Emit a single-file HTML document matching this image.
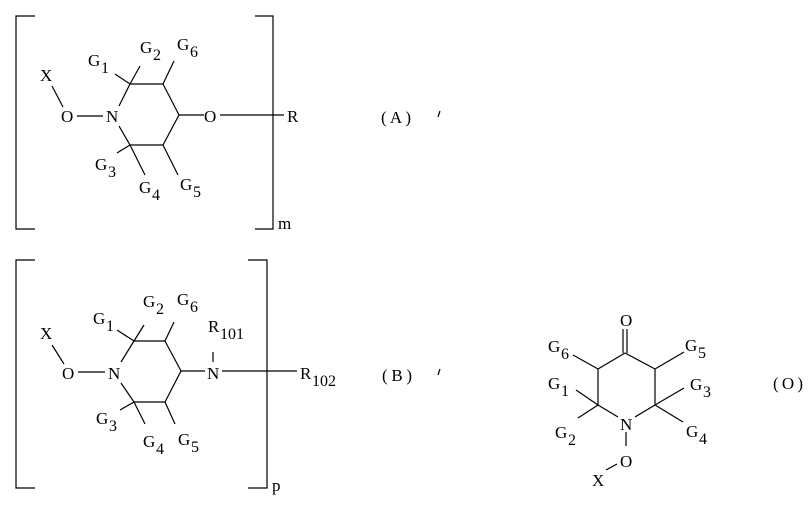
<!DOCTYPE html>
<html><head><meta charset="utf-8"><style>
html,body{margin:0;padding:0;background:#fff;}
svg{display:block;}
text{font-family:"Liberation Serif","DejaVu Serif",serif;font-size:17px;fill:#000;}
.s{font-size:16px;}
</style></head><body>
<svg width="810" height="506" viewBox="0 0 810 506" xmlns="http://www.w3.org/2000/svg">
<g stroke="#000" stroke-width="1.2" fill="none">
<polyline points="35,16 16,16 16,229 35,229"/>
<polyline points="255,16 273,16 273,229 255,229"/>
<line x1="52" y1="86" x2="63" y2="107"/>
<line x1="77" y1="116" x2="103" y2="116"/>
<line x1="119" y1="106" x2="130" y2="84"/>
<line x1="130" y1="84" x2="163" y2="84"/>
<line x1="163" y1="84" x2="179" y2="115"/>
<line x1="179" y1="115" x2="163" y2="145"/>
<line x1="163" y1="145" x2="130" y2="145"/>
<line x1="130" y1="145" x2="119" y2="126"/>
<line x1="179" y1="115" x2="204" y2="115"/>
<line x1="220" y1="115" x2="284" y2="115"/>
<line x1="115" y1="74" x2="130" y2="84"/>
<line x1="130" y1="84" x2="140" y2="66"/>
<line x1="163" y1="84" x2="174" y2="61"/>
<line x1="130" y1="145" x2="117" y2="153"/>
<line x1="130" y1="145" x2="145" y2="175"/>
<line x1="163" y1="145" x2="178" y2="175"/>
<polyline points="35,260 16,260 16,488 35,488"/>
<polyline points="248,260 267,260 267,488 248,488"/>
<line x1="52" y1="345" x2="64" y2="364"/>
<line x1="78" y1="372" x2="105" y2="372"/>
<line x1="121" y1="362" x2="134" y2="341"/>
<line x1="134" y1="341" x2="165" y2="341"/>
<line x1="165" y1="341" x2="181" y2="371"/>
<line x1="181" y1="371" x2="165" y2="402"/>
<line x1="165" y1="402" x2="134" y2="402"/>
<line x1="134" y1="402" x2="121" y2="383"/>
<line x1="181" y1="371" x2="205" y2="371"/>
<line x1="213" y1="352" x2="213" y2="362"/>
<line x1="222" y1="371" x2="297" y2="371"/>
<line x1="117" y1="330" x2="134" y2="341"/>
<line x1="134" y1="341" x2="144" y2="325"/>
<line x1="165" y1="341" x2="174" y2="322"/>
<line x1="134" y1="402" x2="120" y2="410"/>
<line x1="134" y1="402" x2="145" y2="424"/>
<line x1="165" y1="402" x2="175" y2="424"/>
<line x1="623" y1="329" x2="623" y2="353"/>
<line x1="627" y1="329" x2="627" y2="353"/>
<line x1="625" y1="353" x2="598" y2="369"/>
<line x1="625" y1="353" x2="655" y2="369"/>
<line x1="598" y1="369" x2="598" y2="405"/>
<line x1="655" y1="369" x2="655" y2="405"/>
<line x1="598" y1="405" x2="618" y2="417"/>
<line x1="655" y1="405" x2="635" y2="417"/>
<line x1="626" y1="432" x2="626" y2="446"/>
<line x1="606" y1="470" x2="617" y2="464"/>
<line x1="573" y1="355" x2="598" y2="369"/>
<line x1="655" y1="369" x2="684" y2="352"/>
<line x1="576" y1="390" x2="598" y2="405"/>
<line x1="598" y1="405" x2="578" y2="418"/>
<line x1="655" y1="405" x2="684" y2="388"/>
<line x1="655" y1="405" x2="683" y2="422"/>
<line x1="440" y1="111" x2="438" y2="117"/>
<line x1="440" y1="369" x2="438" y2="375"/>
</g>
<text x="40" y="81">X</text>
<text x="61" y="122">O</text>
<text x="106" y="122">N</text>
<text x="204" y="122">O</text>
<text x="287" y="122">R</text>
<text x="88" y="66">G</text><text class="s" x="101" y="73">1</text>
<text x="140" y="53">G</text><text class="s" x="153" y="60">2</text>
<text x="177" y="50">G</text><text class="s" x="190" y="57">6</text>
<text x="95" y="170">G</text><text class="s" x="108" y="177">3</text>
<text x="139" y="193">G</text><text class="s" x="152" y="200">4</text>
<text x="180" y="190">G</text><text class="s" x="193" y="197">5</text>
<text x="278" y="229">m</text>
<text x="381" y="123" textLength="30">(A)</text>
<text x="40" y="339">X</text>
<text x="62" y="379">O</text>
<text x="108" y="379">N</text>
<text x="207" y="379">N</text>
<text x="208" y="332">R</text><text class="s" x="220" y="339">101</text>
<text x="300" y="379">R</text><text class="s" x="312" y="386">102</text>
<text x="93" y="324">G</text><text class="s" x="106" y="331">1</text>
<text x="143" y="307">G</text><text class="s" x="156" y="314">2</text>
<text x="177" y="305">G</text><text class="s" x="190" y="312">6</text>
<text x="96" y="424">G</text><text class="s" x="109" y="431">3</text>
<text x="143" y="447">G</text><text class="s" x="156" y="454">4</text>
<text x="178" y="445">G</text><text class="s" x="191" y="452">5</text>
<text x="272" y="491">p</text>
<text x="382" y="381" textLength="30">(B)</text>
<text x="620" y="326">O</text>
<text x="620" y="430">N</text>
<text x="620" y="467">O</text>
<text x="592" y="486">X</text>
<text x="548" y="352">G</text><text class="s" x="561" y="359">6</text>
<text x="685" y="351">G</text><text class="s" x="698" y="358">5</text>
<text x="548" y="389">G</text><text class="s" x="561" y="396">1</text>
<text x="555" y="438">G</text><text class="s" x="568" y="445">2</text>
<text x="690" y="390">G</text><text class="s" x="703" y="397">3</text>
<text x="686" y="437">G</text><text class="s" x="699" y="444">4</text>
<text x="773" y="389" textLength="30">(O)</text>
</svg>
</body></html>
